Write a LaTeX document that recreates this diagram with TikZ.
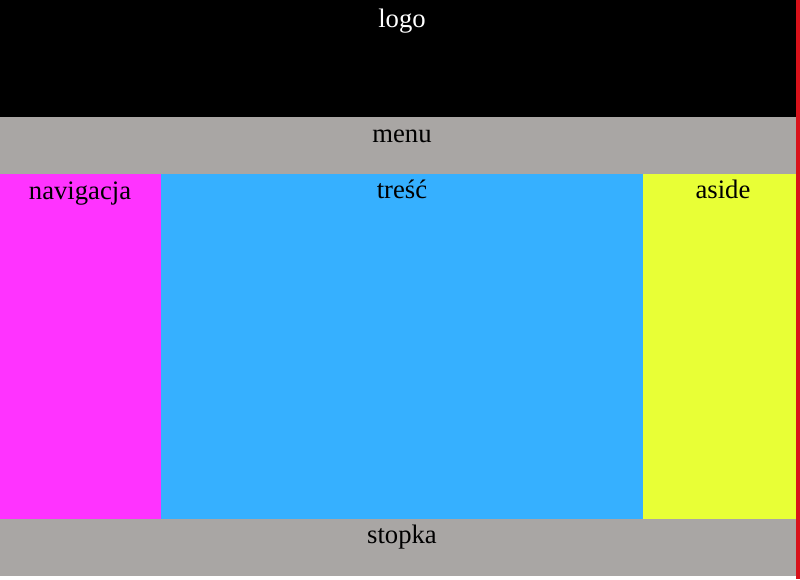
\documentclass[tikz,border=0pt]{standalone}
\usepackage{fontspec}
\setmainfont{Liberation Serif}
\definecolor{gr}{HTML}{A9A6A4}
\definecolor{mag}{HTML}{FF33FF}
\definecolor{blu}{HTML}{36B0FF}
\definecolor{yel}{HTML}{E8FF36}
\definecolor{redline}{HTML}{D8121B}
\tikzset{lbl/.style={anchor=base,inner sep=0pt,font=\fontsize{20}{24}\selectfont}}
\begin{document}
\begin{tikzpicture}[x=0.75pt,y=-0.75pt]
\useasboundingbox (0,0) rectangle (800,579);
\fill[white] (0,0) rectangle (800,579);
\fill[black] (0,0) rectangle (796,117);
\fill[gr] (0,117) rectangle (796,174);
\fill[mag] (0,174) rectangle (161,519);
\fill[blu] (161,174) rectangle (643,519);
\fill[yel] (643,174) rectangle (796,519);
\fill[gr] (0,519) rectangle (796,576);
\fill[redline] (796,0) rectangle (800,579);
\node[lbl,text=white] (logo) at (402,27) {logo};
\node[lbl] (menu) at (402,142) {menu};
\node[lbl] (nav) at (80,199) {navigacja};
\node[lbl] (tresc) at (402,198) {treść};
\node[lbl] (aside) at (723,198) {aside};
\node[lbl] (stopka) at (402,543) {stopka};
\end{tikzpicture}
\end{document}
